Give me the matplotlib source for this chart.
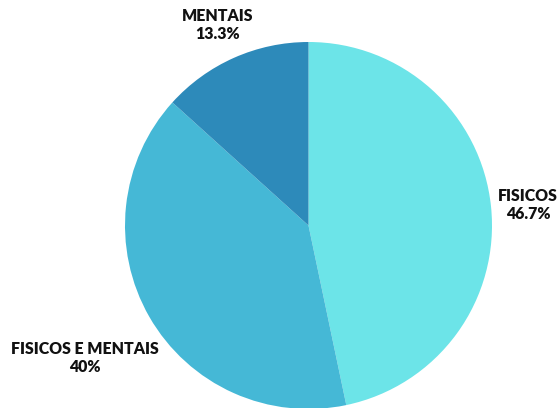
import matplotlib
matplotlib.use("Agg")
import matplotlib.pyplot as plt

categories = ["FISICOS", "FISICOS E MENTAIS", "MENTAIS"]
shares = [46.7, 40.0, 13.3]
pct_labels = ["46.7%", "40%", "13.3%"]
colors = ["#6CE4E8", "#45B8D6", "#2D8ABA"]

W, H = 560, 408
fig = plt.figure(figsize=(W / 100, H / 100), dpi=100)
ax = fig.add_axes([0, 0, 1, 1])

ax.pie(shares, colors=colors, startangle=90, counterclock=False,
       center=(308.5, H - 225.5), radius=183.5, frame=True,
       wedgeprops=dict(linewidth=0))
ax.set_xlim(0, W)
ax.set_ylim(0, H)
ax.set_aspect("equal")
ax.axis("off")

label_pos = [(528, 205), (85, 358), (218, 25)]
for name, pct, (x, y) in zip(categories, pct_labels, label_pos):
    ax.text(x, H - y, f"{name}\n{pct}", ha="center", va="center",
            fontsize=11.4, fontweight="heavy", family="Lato",
            linespacing=1.12, color="#111111")

fig.savefig("out.png", dpi=100)
